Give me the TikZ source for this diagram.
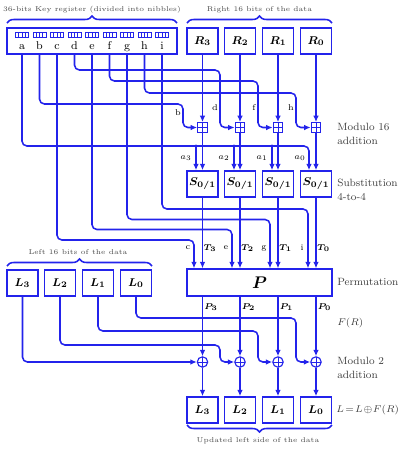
\documentclass[tikz,border=0pt]{standalone}
\usepackage{amsmath}
\usepackage{amssymb}
\usepackage{tikz}
\usetikzlibrary{arrows.meta,calc,positioning,decorations.pathreplacing}
\definecolor{wire}{RGB}{35,35,235}
\tikzset{
  reg/.style={rectangle,draw=wire,line width=1.1pt,minimum width=.78cm,minimum height=.65cm,inner sep=0pt,font=\footnotesize},
  kreg/.style={rectangle,draw=wire,line width=1.1pt,minimum width=4.25cm,minimum height=.65cm,inner sep=0pt},
  kl/.style={font=\footnotesize,text height=1.5ex,text depth=.25ex,inner sep=0pt},
  nib/.style={draw=wire,line width=.5pt},
  % boxed plus for the modulo 16 adders, circled plus for the xor
  addm/.style={rectangle,draw=wire,fill=white,line width=.8pt,minimum size=.24cm,inner sep=0pt,
    path picture={\draw[wire,line width=.7pt] (path picture bounding box.north)--(path picture bounding box.south)
      (path picture bounding box.west)--(path picture bounding box.east);}},
  xr/.style={circle,draw=wire,fill=white,line width=.8pt,minimum size=.26cm,inner sep=0pt,
    path picture={\draw[wire,line width=.7pt] (path picture bounding box.north)--(path picture bounding box.south)
      (path picture bounding box.west)--(path picture bounding box.east);}},
  wr/.style={draw=wire,line width=1.1pt,rounded corners=3.5pt},
  wra/.style={wr,-{Latex[length=1.6mm,width=1.4mm]}},
  br/.style={draw=wire,line width=1.1pt,decorate,decoration={brace,amplitude=5pt}},
  lb/.style={font=\fontsize{6}{7}\selectfont,inner sep=0pt},
  bl/.style={font=\tiny,text=black!70},
  tb/.style={font=\fontsize{7.5}{10}\selectfont,text=black!75,align=left,anchor=west,inner sep=0pt},
}

\begin{document}
\begin{tikzpicture}[x=0.025cm,y=-0.025cm]
\useasboundingbox (0,0) rectangle (400,450);
% key register, one nibble per letter
\node[kreg] (key) at (92,41) {};
\foreach \x/\l in {22/a,39.5/b,57/c,74.5/d,92/e,109.5/f,127/g,144.5/h,162/i} {
  \node[kl] (k\l) at (\x,46) {\l};
  \draw[nib] (\x-6.5,32) rectangle (\x+6.5,37.5);
  \foreach \d in {-3.25,0,3.25}
    \draw[nib] (\x+\d,32) -- (\x+\d,37.5);
}
\draw[br] (7,23) -- (177,23);
\node[bl] at (92,10) {36-bits Key register (divided into nibbles)};
% right half: adder, s-box, xor and new left nibble in each column
\foreach \x/\n in {202.5/3,240/2,278/1,316/0} {
  \node[reg] (r\n) at (\x,41) {$\boldsymbol{R_\n}$};
  \node[addm] (m\n) at (\x,127.5) {};
  \node[reg] (s\n) at (\x,184) {$\boldsymbol{S_{0/1}}$};
  \node[xr] (x\n) at (\x,362) {};
  \node[reg] (n\n) at (\x,410) {$\boldsymbol{L_\n}$};
  \draw[wra] (r\n) -- (m\n);
  \draw[wra] (m\n) -- (s\n);
  \draw[wra] (x\n) -- (n\n);
}
\draw[br] (187,23) -- (332,23);
\node[bl] at (259.5,10) {Right 16 bits of the data};
\node[reg,minimum width=3.625cm,minimum height=.67cm,font=\large] (p) at (259.5,282.5) {$\boldsymbol{P}$};
\foreach \x/\n in {202.5/3,240/2,278/1,316/0} {
  \draw[wra] (s\n) -- (s\n |- p.north);
  \draw[wra] (p.south -| x\n) -- (x\n);
  \node[lb] at (\x+7.5,248) {$\boldsymbol{T_\n}$};
  \node[lb] at (\x+8.5,307) {$\boldsymbol{P_\n}$};
}
% key nibbles b, d, f, h into the adders
\draw[wra] (kb |- key.south) |- (183,104) |- (m3);
\draw[wra] (kd |- key.south) |- (220,70) |- (m2);
\draw[wra] (kf |- key.south) |- (258,81) |- (m1);
\draw[wra] (kh |- key.south) |- (296,93) |- (m0);
\node[lb] at (178,113) {b};
\node[lb] at (215,108) {d};
\node[lb] at (254,108) {f};
\node[lb] at (291,108) {h};
% nibble a selects the s-box
\coordinate (a0) at (309,146);
\draw[wra] (ka |- key.south) |- (a0) -- (a0 |- s0.north);
\foreach \x/\n in {196/3,234/2,272/1} {
  \coordinate (a\n) at (\x,146);
  \fill[wire] (a\n) circle (1.2pt);
  \draw[wra] (a\n) -- (a\n |- s\n.north);
}
\foreach \x/\n in {186/3,224/2,262/1,300/0}
  \node[lb] at (\x,158) {$a_\n$};
% nibbles c, e, g, i into the permutation
\coordinate (jc) at (194,240);
\coordinate (je) at (232,229.5);
\coordinate (jg) at (270,219.5);
\coordinate (ji) at (308,209);
\foreach \l in {c,e,g,i}
  \draw[wra] (k\l |- key.south) |- (j\l) -- (j\l |- p.north);
\foreach \x/\l in {188/c,226/e,264/g,302/i}
  \node[lb] at (\x,248) {\l};
% left half of the data
\foreach \x/\n in {22.5/3,60/2,98/1,136/0}
  \node[reg] (l\n) at (\x,283) {$\boldsymbol{L_\n}$};
\draw[br] (7,266) -- (152,266);
\node[bl] at (78,252) {Left 16 bits of the data};
\draw[wra] (l3) |- (x3);
\draw[wra] (l2) |- (220,345) |- (x2);
\draw[wra] (l1) |- (258,331) |- (x1);
\draw[wra] (l0) |- (296,318) |- (x0);
\draw[br] (332,425) -- (187,425);
\node[bl] at (258,441) {Updated left side of the data};
% stage names on the right
\node[tb] at (337,134) {Modulo 16\\addition};
\node[tb] at (337,190) {Substitution\\4-to-4};
\node[tb] at (337,282) {Permutation};
\node[tb] at (337,323) {$F(R)$};
\node[tb] at (337,368) {Modulo 2\\addition};
\node[tb,font=\fontsize{7.2}{9}\selectfont] at (336,410) {$L\!=\!L\!\oplus\! F(R)$};
\end{tikzpicture}
\end{document}
